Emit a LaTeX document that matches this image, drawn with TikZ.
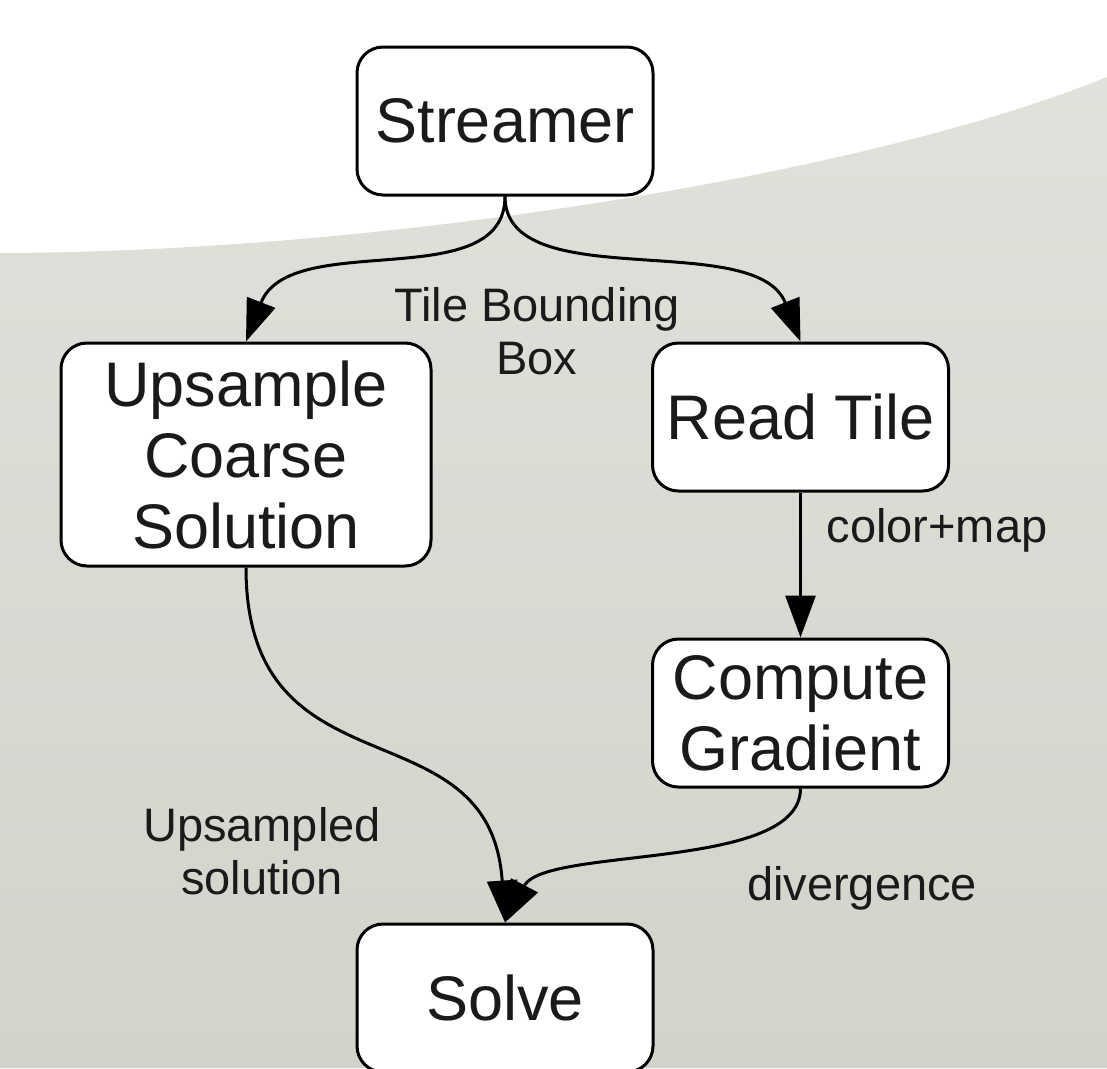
\documentclass[tikz,border=0pt]{standalone}
\usepackage{fontspec}
\setmainfont{Liberation Sans}
\usetikzlibrary{arrows.meta}
\definecolor{bgtop}{HTML}{E1E1DB}
\definecolor{bgbot}{HTML}{D3D3CC}
\definecolor{txt}{HTML}{1A1A1A}
\begin{document}
\begin{tikzpicture}[x=1pt,y=-1pt,
  box/.style={draw=black, line width=3pt, fill=white, rounded corners=26pt,
    minimum width=296pt, minimum height=148pt, inner sep=0pt, align=center,
    text=txt, font=\fontsize{63}{71}\selectfont},
  lbl/.style={align=center, text=txt, inner sep=0pt, font=\fontsize{47}{53}\selectfont},
  conn/.style={line width=3pt, -{Triangle[length=42pt,width=30pt]}}]
\useasboundingbox (0,0) rectangle (1107,1068);
\begin{scope}
\clip (0,0) rectangle (1107,1068);
\fill[white] (0,0) rectangle (1107,1068);
\shade[top color=bgtop, bottom color=bgbot]
  (0,253) .. controls (400,252) and (880,170) .. (1107,77) -- (1107,1068) -- (0,1068) -- cycle;

\node[box] (streamer) at (505,121) {Streamer};
\node[box, minimum width=370pt, minimum height=223pt] (upsample) at (246,454.5) {Upsample\\Coarse\\Solution};
\node[box] (readtile) at (800.5,417) {Read Tile};
\node[box] (gradient) at (800.5,713) {Compute\\Gradient};
\node[box] (solve) at (505,998) {Solve};

\draw[conn] (streamer.south) .. controls +(0,100) and (290,228) .. (upsample.north);
\draw[conn] (streamer.south) .. controls +(0,100) and (756,228) .. (readtile.north);
\draw[conn] (readtile.south) -- (gradient.north);
\draw[conn] (upsample.south) .. controls +(0,234) and (490,700) .. (solve.north);
\draw[conn] (gradient.south) .. controls +(0,83) and (545,846) .. (solve.north);

\node[lbl] (l1) at (537,331) {Tile Bounding\\Box};
\node[lbl] (l2) at (937,530) {color+map};
\node[lbl] (l3) at (262,851) {Upsampled\\solution};
\node[lbl] (l4) at (862,888) {divergence};
\end{scope}
\end{tikzpicture}
\end{document}
